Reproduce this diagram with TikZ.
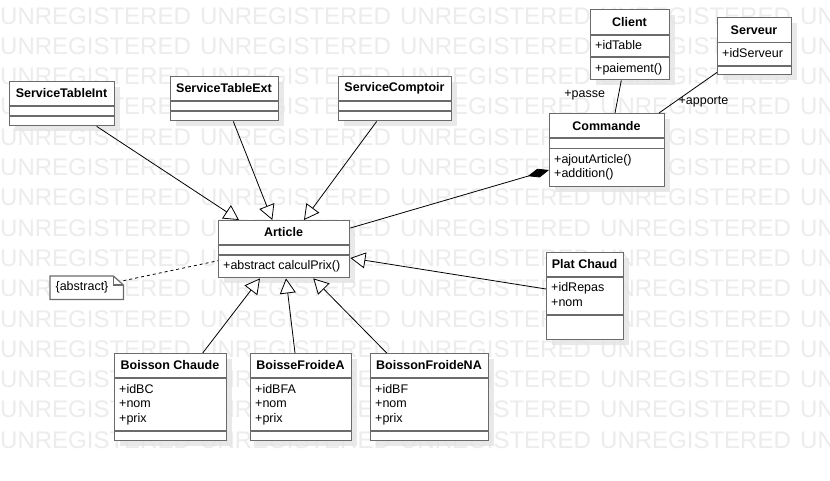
\documentclass[tikz,border=0pt]{standalone}
\usepackage{fontspec}
\setmainfont{Liberation Sans}
\usepackage{tikz}
\usetikzlibrary{arrows.meta, shadows}
\definecolor{boxgray}{HTML}{6B6B6B}
\definecolor{wmgray}{HTML}{ECECEC}
\definecolor{shade}{HTML}{E4E4E4}

\begin{document}
\begin{tikzpicture}[x=1pt, y=-1pt]
  \tikzstyle{cls}=[draw=boxgray, line width=1.4pt, fill=white,
    anchor=north west, inner sep=0pt,
    drop shadow={shadow xshift=5pt, shadow yshift=-5pt, fill=shade, opacity=0.8}]
  \tikzstyle{nm}=[font=\fontsize{12.5}{14}\selectfont\bfseries, inner sep=0pt]
  \tikzstyle{attr}=[font=\fontsize{12.5}{14}\selectfont, anchor=west, inner sep=0pt]
  \tikzstyle{lbl}=[font=\fontsize{12.5}{14}\selectfont, inner sep=0pt]
  \tikzstyle{wm}=[font=\fontsize{24}{24}\selectfont, text=wmgray,
    anchor=west, inner sep=0pt]
  \tikzstyle{sepl}=[draw=boxgray, line width=1.4pt]
  \tikzstyle{gen}=[line width=0.8pt,
    -{Triangle[open, fill=white, length=15pt, width=16pt]}]
  \tikzstyle{comp}=[line width=0.8pt, -{Diamond[length=22pt, width=9pt]}]

  \useasboundingbox[fill=white] (0,0) rectangle (830,480);

  % watermark
  \foreach \r in {0,...,14}
    \foreach \c in {0,...,4}
      \node[wm] (wm-\r-\c) at (200*\c, 15.8+30.3*\r) {UNREGISTERED};

  % services
  \node[cls, minimum width=105pt, minimum height=44pt] (sti) at (9,81) {};
  \node[nm] (stin) at (61.5,93) {ServiceTableInt};
  \draw[sepl] ([yshift=-25pt]sti.north west) -- ([yshift=-25pt]sti.north east);
  \draw[sepl] ([yshift=-35pt]sti.north west) -- ([yshift=-35pt]sti.north east);

  \node[cls, minimum width=108pt, minimum height=44pt] (ste) at (170,76) {};
  \node[nm] (sten) at (224,88) {ServiceTableExt};
  \draw[sepl] ([yshift=-25pt]ste.north west) -- ([yshift=-25pt]ste.north east);
  \draw[sepl] ([yshift=-35pt]ste.north west) -- ([yshift=-35pt]ste.north east);

  \node[cls, minimum width=113pt, minimum height=44pt] (stc) at (338,76) {};
  \node[nm] (stcn) at (394.5,88) {ServiceComptoir};
  \draw[sepl] ([yshift=-25pt]stc.north west) -- ([yshift=-25pt]stc.north east);
  \draw[sepl] ([yshift=-35pt]stc.north west) -- ([yshift=-35pt]stc.north east);

  % article
  \node[cls, minimum width=131pt, minimum height=57pt] (art) at (218,220) {};
  \node[nm] (artn) at (283.5,232) {Article};
  \draw[sepl] ([yshift=-25pt]art.north west) -- ([yshift=-25pt]art.north east);
  \draw[sepl] ([yshift=-35pt]art.north west) -- ([yshift=-35pt]art.north east);
  \node[attr] (artm) at (223,266) {+abstract calculPrix()};

  % client, serveur, commande
  \node[cls, minimum width=79pt, minimum height=70pt] (cli) at (590,9) {};
  \node[nm] (clin) at (629.5,22) {Client};
  \draw[sepl] ([yshift=-26pt]cli.north west) -- ([yshift=-26pt]cli.north east);
  \draw[sepl] ([yshift=-48pt]cli.north west) -- ([yshift=-48pt]cli.north east);
  \node[attr] (clia) at (595,45) {+idTable};
  \node[attr] (clim) at (595,69) {+paiement()};

  \node[cls, minimum width=74pt, minimum height=57pt] (srv) at (717,17) {};
  \node[nm] (srvn) at (754,30) {Serveur};
  \draw[sepl] ([yshift=-25.5pt]srv.north west) -- ([yshift=-25.5pt]srv.north east);
  \draw[sepl] ([yshift=-49pt]srv.north west) -- ([yshift=-49pt]srv.north east);
  \node[attr] (srva) at (722,53.5) {+idServeur};

  \node[cls, minimum width=115pt, minimum height=73pt] (cmd) at (549,113) {};
  \node[nm] (cmdn) at (606.5,126) {Commande};
  \draw[sepl] ([yshift=-25pt]cmd.north west) -- ([yshift=-25pt]cmd.north east);
  \draw[sepl] ([yshift=-35.5pt]cmd.north west) -- ([yshift=-35.5pt]cmd.north east);
  \node[attr] (cmdm1) at (554,160) {+ajoutArticle()};
  \node[attr] (cmdm2) at (554,174) {+addition()};

  % plat chaud
  \node[cls, minimum width=77pt, minimum height=87pt] (pc) at (546,252) {};
  \node[nm] (pcn) at (584.5,264) {Plat Chaud};
  \draw[sepl] ([yshift=-25pt]pc.north west) -- ([yshift=-25pt]pc.north east);
  \draw[sepl] ([yshift=-63pt]pc.north west) -- ([yshift=-63pt]pc.north east);
  \node[attr] (pca1) at (551,288) {+idRepas};
  \node[attr] (pca2) at (551,302.5) {+nom};

  % boissons
  \node[cls, minimum width=112pt, minimum height=87pt] (bc) at (114,353) {};
  \node[nm] (bcn) at (170,365) {Boisson Chaude};
  \draw[sepl] ([yshift=-25pt]bc.north west) -- ([yshift=-25pt]bc.north east);
  \draw[sepl] ([yshift=-78pt]bc.north west) -- ([yshift=-78pt]bc.north east);
  \node[attr] (bca1) at (119,389) {+idBC};
  \node[attr] (bca2) at (119,404) {+nom};
  \node[attr] (bca3) at (119,419) {+prix};

  \node[cls, minimum width=101pt, minimum height=87pt] (bfa) at (250,353) {};
  \node[nm] (bfan) at (300.5,365) {BoisseFroideA};
  \draw[sepl] ([yshift=-25pt]bfa.north west) -- ([yshift=-25pt]bfa.north east);
  \draw[sepl] ([yshift=-78pt]bfa.north west) -- ([yshift=-78pt]bfa.north east);
  \node[attr] (bfaa1) at (255,389) {+idBFA};
  \node[attr] (bfaa2) at (255,404) {+nom};
  \node[attr] (bfaa3) at (255,419) {+prix};

  \node[cls, minimum width=118pt, minimum height=87pt] (bfna) at (370,353) {};
  \node[nm] (bfnan) at (429,365) {BoissonFroideNA};
  \draw[sepl] ([yshift=-25pt]bfna.north west) -- ([yshift=-25pt]bfna.north east);
  \draw[sepl] ([yshift=-78pt]bfna.north west) -- ([yshift=-78pt]bfna.north east);
  \node[attr] (bfnaa1) at (375,389) {+idBF};
  \node[attr] (bfnaa2) at (375,404) {+nom};
  \node[attr] (bfnaa3) at (375,419) {+prix};

  % note
  \node[inner sep=0pt, minimum width=73pt, minimum height=23pt, anchor=north west]
    (nt) at (50,276) {};
  \draw[draw=boxgray, line width=1.2pt, fill=white]
    (nt.north west) -- ([xshift=-10pt]nt.north east)
    -- ([yshift=-9pt]nt.north east) -- (nt.south east) -- (nt.south west) -- cycle;
  \draw[draw=boxgray, line width=1.2pt]
    ([xshift=-10pt]nt.north east) -- ([xshift=-10pt,yshift=-9pt]nt.north east)
    -- ([yshift=-9pt]nt.north east);
  \node[lbl] (ntt) at (82,287.5) {\{abstract\}};

  % connectors
  \draw[gen] ([xshift=87.7pt]sti.south west) -- ([xshift=21pt]art.north west);
  \draw[gen] ([xshift=63.3pt]ste.south west) -- ([xshift=54.3pt]art.north west);
  \draw[gen] ([xshift=38.7pt]stc.south west) -- ([xshift=86pt]art.north west);
  \draw[gen] ([yshift=-37pt]pc.north west) -- ([yshift=-38pt]art.north east);
  \draw[gen] ([xshift=88.7pt]bc.north west) -- ([xshift=42pt]art.south west);
  \draw[gen] ([xshift=45pt]bfa.north west) -- ([xshift=68pt]art.south west);
  \draw[gen] ([xshift=16.7pt]bfna.north west) -- ([xshift=95.3pt]art.south west);

  \draw[comp] ([yshift=-8pt]art.north east) -- ([yshift=-57pt]cmd.north west);

  \draw[line width=0.8pt] ([xshift=31.3pt]cli.south west)
    -- node[lbl, pos=0.45, anchor=east, xshift=-13pt] {+passe}
    ([xshift=66pt]cmd.north west);
  \draw[line width=0.8pt] ([yshift=3pt]srv.south west)
    -- node[lbl, pos=0.72, anchor=west, xshift=3pt] {+apporte}
    ([xshift=110pt]cmd.north west);

  \draw[line width=0.8pt, dash pattern=on 3pt off 3pt]
    ([yshift=-4.7pt]nt.north east) -- ([yshift=-40.7pt]art.north west);
\end{tikzpicture}
\end{document}
